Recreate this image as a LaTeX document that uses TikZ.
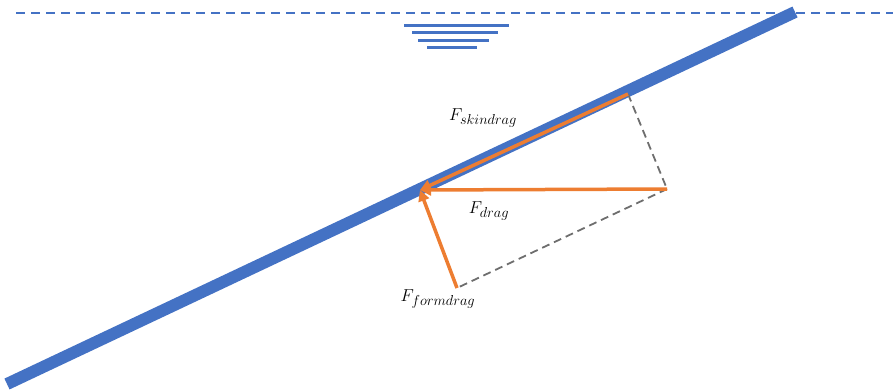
\documentclass[tikz,border=0pt]{standalone}
\usepackage{tikz}
\usetikzlibrary{arrows.meta}
\definecolor{barblue}{RGB}{68,114,196}
\definecolor{forceorange}{RGB}{237,125,49}
\definecolor{helpgray}{RGB}{110,110,110}
\newcommand{\forcesub}[1]{{\mbox{\fontsize{14}{16}\selectfont$#1$}}}

\begin{document}
\begin{tikzpicture}[x=1pt,y=-1pt,
    force/.style={line width=3.5pt,forceorange,-{Triangle[length=11pt,width=11pt]}},
    helper/.style={helpgray,line width=1.8pt,dash pattern=on 8pt off 5pt},
    lbl/.style={font=\fontsize{18}{21}\selectfont,inner sep=0pt}]
    \useasboundingbox (0,0) rectangle (893,389);
    % Water level
    \coordinate (wl) at (16,13);
    \coordinate (wr) at (893,13);
    \draw[barblue,line width=2pt,dash pattern=on 9pt off 6pt] (wl)--(wr);
    \foreach \xa/\xb/\y in {404/509/25,412/498/32,418/489/40,427/477/47}{
      \draw[barblue,line width=3pt] (\xa,\y)--(\xb,\y);
    }
    % Inclined blade
    \coordinate (bot) at (7,384);
    \coordinate (top) at (795,12);
    \draw[barblue,line width=12pt] (bot)--(top);
    % Force points
    \coordinate (P) at (420,190);
    \coordinate (S) at (628,94);
    \coordinate (D) at (667,189);
    \coordinate (Fm) at (457,288);
    % Parallelogram helpers
    \draw[helper] (S)--(D);
    \draw[helper] (D)--(Fm);
    % Forces
    \draw[force] (S)--(P);
    \draw[force] (D)--(P);
    \draw[force] (Fm)--(P);
    % Labels
    \node[lbl] (skin) at (483,118) {$F_\forcesub{skindrag}$};
    \node[lbl] (drag) at (489,211) {$F_\forcesub{drag}$};
    \node[lbl] (form) at (438,299) {$F_\forcesub{formdrag}$};
\end{tikzpicture}
\end{document}
